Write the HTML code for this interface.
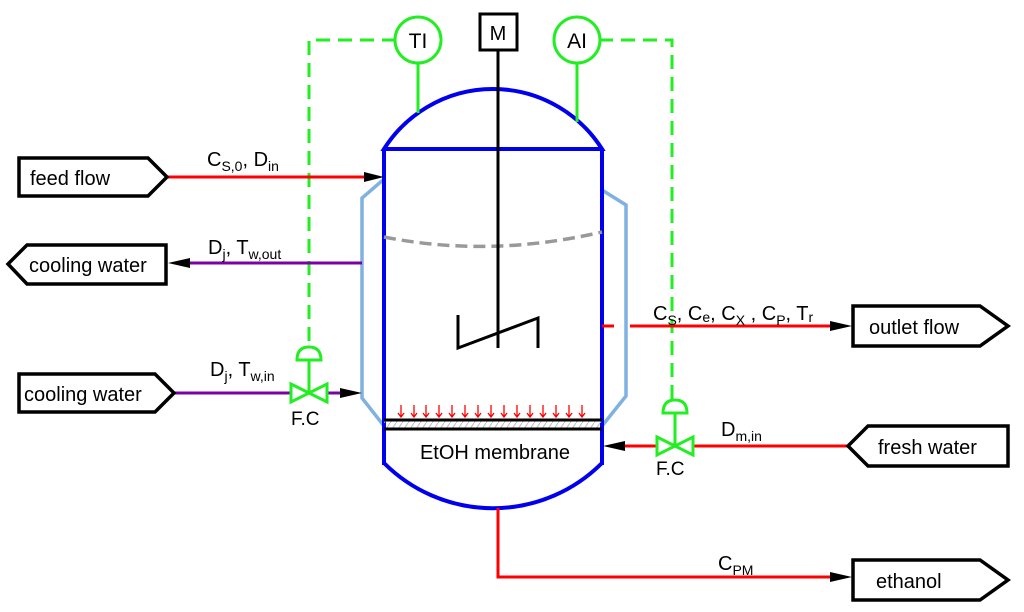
<!DOCTYPE html>
<html><head><style>
body{margin:0;background:#fff;}
svg{display:block;font-family:"Liberation Sans",sans-serif;}
</style></head><body>
<svg width="1024" height="612" viewBox="0 0 1024 612" xmlns="http://www.w3.org/2000/svg">
<defs>
<pattern id="h" width="6" height="9" patternUnits="userSpaceOnUse"><line x1="0" y1="9" x2="6" y2="0" stroke="#bbb" stroke-width="1"/></pattern>
</defs>
<g stroke="#22ee22" stroke-width="3" fill="none" stroke-dasharray="14,8">
<polyline points="396,40 309,40 309,345"/>
<polyline points="599,40 672,40 672,400"/>
</g>
<g stroke="#7fb2e0" stroke-width="3.5" fill="none">
<polyline points="383,180 362,198 362,398 384,426"/>
<polyline points="602,190 626,205 626,396 602,426"/>
</g>
<g stroke="#0000ee" stroke-width="4" fill="none">
<path d="M384,149 A129,129 0 0 1 602,149 Z"/>
<line x1="384" y1="149" x2="384" y2="465"/>
<line x1="602" y1="149" x2="602" y2="465"/>
<path d="M384,463 A154,154 0 0 0 602,463"/>
</g>
<path d="M384,237 Q490,258 602,232" stroke="#999" stroke-width="3.5" fill="none" stroke-dasharray="12,6"/>
<rect x="384" y="420" width="218" height="9" fill="url(#h)"/>
<line x1="384" y1="420" x2="602" y2="420" stroke="#000" stroke-width="3"/>
<line x1="384" y1="429" x2="602" y2="429" stroke="#000" stroke-width="3"/>
<g stroke="#f00" stroke-width="1.3" fill="none">
<path d="M401,405v12m-3,-4l3,4l3,-4M414,405v12m-3,-4l3,4l3,-4M426,405v12m-3,-4l3,4l3,-4M439,405v12m-3,-4l3,4l3,-4M452,405v12m-3,-4l3,4l3,-4M465,405v12m-3,-4l3,4l3,-4M478,405v12m-3,-4l3,4l3,-4M491,405v12m-3,-4l3,4l3,-4M504,405v12m-3,-4l3,4l3,-4M517,405v12m-3,-4l3,4l3,-4M530,405v12m-3,-4l3,4l3,-4M543,405v12m-3,-4l3,4l3,-4M556,405v12m-3,-4l3,4l3,-4M569,405v12m-3,-4l3,4l3,-4M582,405v12m-3,-4l3,4l3,-4"/>
</g>
<text x="495" y="459" font-size="20" text-anchor="middle">EtOH membrane</text>
<rect x="480" y="14" width="37" height="36" fill="#fff" stroke="#000" stroke-width="3"/>
<text x="498" y="40" font-size="20" text-anchor="middle">M</text>
<line x1="498" y1="50" x2="498" y2="348" stroke="#000" stroke-width="3"/>
<polyline points="458,315 458,348 538,318 538,348" stroke="#000" stroke-width="3" fill="none"/>
<g stroke="#22ee22" stroke-width="3" fill="#fff">
<line x1="418" y1="62" x2="418" y2="113"/>
<line x1="577" y1="62" x2="577" y2="122"/>
<circle cx="418" cy="40" r="23"/>
<circle cx="577" cy="40" r="23"/>
</g>
<text x="418" y="48" font-size="21" text-anchor="middle">TI</text>
<text x="577" y="48" font-size="21" text-anchor="middle">AI</text>
<line x1="168" y1="177" x2="370" y2="177" stroke="#f00" stroke-width="3"/>
<polygon points="364,172 384,177 364,182" fill="#000"/>
<polygon points="19,158 148,158 167,177 148,196 19,196" fill="#fff" stroke="#000" stroke-width="3.5"/>
<text x="30" y="185" font-size="20">feed flow</text>
<text x="207" y="166" font-size="20">C<tspan font-size="14" dy="5">S,0</tspan><tspan dy="-5">, D</tspan><tspan font-size="14" dy="5">in</tspan></text>
<line x1="362" y1="263" x2="188" y2="263" stroke="#7a00a8" stroke-width="3"/>
<polygon points="190,258 168,263 190,268" fill="#000"/>
<polygon points="166,245 27,245 8,264 27,284 166,284" fill="#fff" stroke="#000" stroke-width="3.5"/>
<text x="29" y="272" font-size="20">cooling water</text>
<text x="208" y="254" font-size="20">D<tspan font-size="14" dy="5">j</tspan><tspan dy="-5">, T</tspan><tspan font-size="14" dy="5">w,out</tspan></text>
<line x1="174" y1="393" x2="292" y2="393" stroke="#7a00a8" stroke-width="3"/>
<line x1="326" y1="393" x2="345" y2="393" stroke="#7a00a8" stroke-width="3"/>
<polygon points="340,388 362,393 340,398" fill="#000"/>
<polygon points="19,374 155,374 174,393 155,412 19,412" fill="#fff" stroke="#000" stroke-width="3.5"/>
<text x="24" y="401" font-size="20">cooling water</text>
<text x="210" y="376" font-size="20">D<tspan font-size="14" dy="5">j</tspan><tspan dy="-5">, T</tspan><tspan font-size="14" dy="5">w,in</tspan></text>
<g stroke="#22ee22" stroke-width="3" fill="#fff">
<line x1="309" y1="360" x2="309" y2="393"/>
<path d="M297,360 Q297,347 309,347 Q321,347 321,360 Z"/>
<polygon points="291,384 327,402 327,384 291,402"/>
</g>
<text x="291" y="425" font-size="19">F.C</text>
<line x1="602" y1="326" x2="614" y2="326" stroke="#f00" stroke-width="3"/>
<line x1="630" y1="326" x2="832" y2="326" stroke="#f00" stroke-width="3"/>
<polygon points="830,321 852,326 830,331" fill="#000"/>
<polygon points="853,306 980,306 1008,326 980,346 853,346" fill="#fff" stroke="#000" stroke-width="3.5"/>
<text x="869" y="334" font-size="20">outlet flow</text>
<text x="653" y="320" font-size="20">C<tspan font-size="14" dy="5">S</tspan><tspan dy="-5">, C</tspan><tspan font-size="14" dy="2">e</tspan><tspan dy="-2">, C</tspan><tspan font-size="14" dy="5">X</tspan><tspan dy="-5"> , C</tspan><tspan font-size="14" dy="5">P</tspan><tspan dy="-5">, T</tspan><tspan font-size="14" dy="2">r</tspan></text>
<line x1="848" y1="446" x2="692" y2="446" stroke="#f00" stroke-width="3"/>
<line x1="657" y1="446" x2="620" y2="446" stroke="#f00" stroke-width="3"/>
<polygon points="625,441 603,446 625,451" fill="#000"/>
<polygon points="1008,426 868,426 848,446 868,466 1008,466" fill="#fff" stroke="#000" stroke-width="3.5"/>
<text x="878" y="454" font-size="20">fresh water</text>
<text x="721" y="436" font-size="20">D<tspan font-size="14" dy="5">m,in</tspan></text>
<g stroke="#22ee22" stroke-width="3" fill="#fff">
<line x1="675" y1="413" x2="675" y2="446"/>
<path d="M663,413 Q663,400 675,400 Q687,400 687,413 Z"/>
<polygon points="657,437 693,455 693,437 657,455"/>
</g>
<text x="656" y="475" font-size="19">F.C</text>
<polyline points="498,508 498,577 832,577" stroke="#f00" stroke-width="3" fill="none"/>
<polygon points="830,572 852,577 830,582" fill="#000"/>
<polygon points="853,560 980,560 1008,580 980,600 853,600" fill="#fff" stroke="#000" stroke-width="3.5"/>
<text x="876" y="588" font-size="20">ethanol</text>
<text x="718" y="570" font-size="20">C<tspan font-size="14" dy="5">PM</tspan></text>
</svg>
</body></html>
